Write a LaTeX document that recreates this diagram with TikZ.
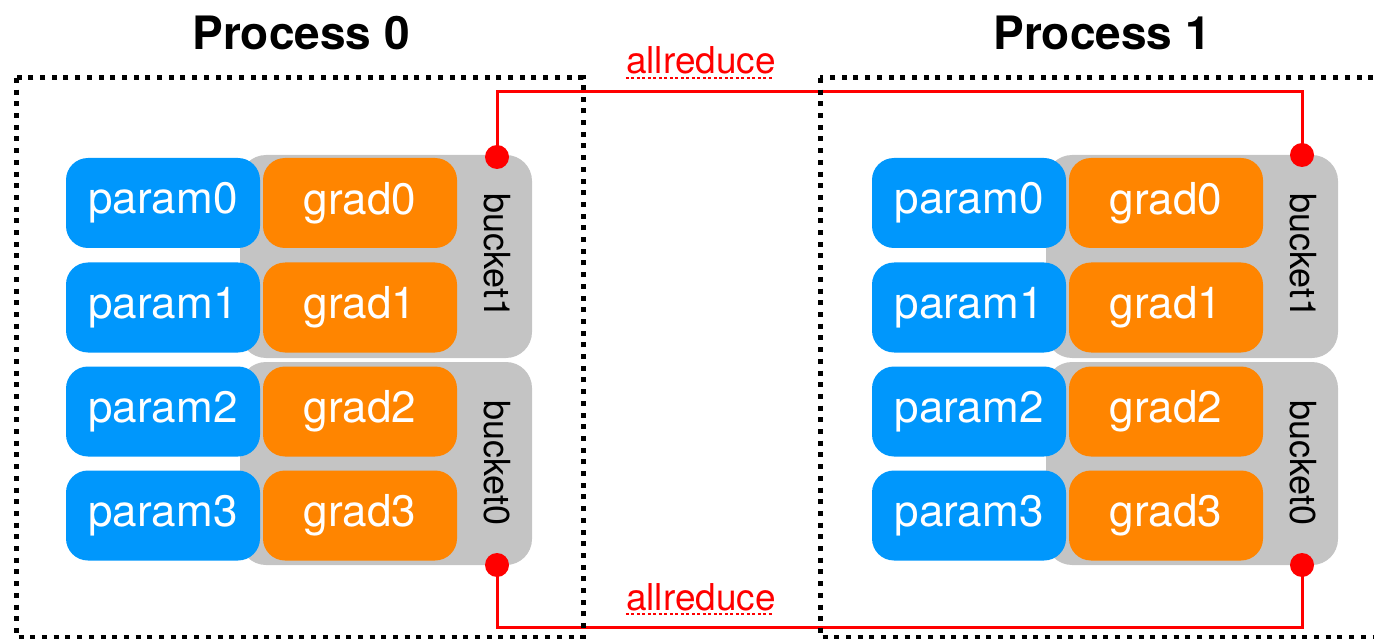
\documentclass[tikz,border=0pt]{standalone}
\usepackage{fontspec}
\setmainfont{TeX Gyre Heros}
\definecolor{pblue}{HTML}{0097FC}
\definecolor{gorange}{HTML}{FF8500}
\definecolor{bgrey}{HTML}{C4C4C4}
\definecolor{ared}{HTML}{FF0000}
\begin{document}
\begin{tikzpicture}[x=1pt,y=-1pt,
  parambox/.style={rectangle,rounded corners=22pt,fill=pblue,minimum width=194pt,minimum height=90pt,inner sep=0pt,text=white,font=\fontsize{44}{50}\selectfont},
  gradbox/.style={rectangle,rounded corners=22pt,fill=gorange,minimum width=194pt,minimum height=90pt,inner sep=0pt,text=white,font=\fontsize{44}{50}\selectfont},
  bucketbox/.style={rectangle,rounded corners=26pt,fill=bgrey,minimum width=292pt,minimum height=203pt,inner sep=0pt},
  buckettext/.style={rotate=-90,text=black,font=\fontsize{36}{40}\selectfont,inner sep=0pt},
  procbox/.style={draw=black,line width=5pt,dash pattern=on 5pt off 6.7pt},
  redline/.style={draw=ared,line width=3pt},
  reddot/.style={circle,fill=ared,minimum size=24pt,inner sep=0pt},
  title/.style={font=\bfseries\fontsize{46}{50}\selectfont,anchor=base},
  arlabel/.style={text=ared,font=\fontsize{37}{40}\selectfont,anchor=base,inner sep=0pt},
  squiggle/.style={draw=ared,line width=2pt,dash pattern=on 3pt off 2.5pt}]
\useasboundingbox (0,0) rectangle (1374,639);

\foreach \p/\dx in {0/0,1/806}{
  \node[bucketbox] (b1\p) at (386+\dx,256.5) {};
  \node[bucketbox] (b0\p) at (386+\dx,463.5) {};
  \node[buckettext] (bt1\p) at (497+\dx,256) {bucket1};
  \node[buckettext] (bt0\p) at (497+\dx,463) {bucket0};
  \foreach \i/\y in {0/203,1/307.5,2/411.5,3/515.5}{
    \node[parambox] (pa\i\p) at (163+\dx,\y) {param\i};
    \node[gradbox] (gr\i\p) at (360+\dx,\y) {grad\i};
  }
}

\node[title] (t0) at (301,50) {Process 0};
\node[title] (t1) at (1102,50) {Process 1};

% red connectors
\node[reddot] (dt0) at (497,157) {};
\node[reddot] (dt1) at (1302,155) {};
\node[reddot] (db0) at (497,565) {};
\node[reddot] (db1) at (1302,565) {};
\coordinate (ct0) at (497,92);
\coordinate (ct1) at (1302,92);
\coordinate (cb0) at (497,627);
\coordinate (cb1) at (1302,627);
\draw[redline] (dt0.center) -- (ct0) -- (ct1) -- (dt1.center);
\draw[redline] (db0.center) -- (cb0) -- (cb1) -- (db1.center);

\node[arlabel] (ar0) at (701,73.5) {allreduce};
\node[arlabel] (ar1) at (701,610) {allreduce};
\draw[squiggle] (ar0.south west) ++(0,3.5) coordinate (s0a) -- ++(146,0);
\draw[squiggle] (ar1.south west) ++(0,3.5) coordinate (s1a) -- ++(146,0);

% process boxes
\coordinate (p0a) at (16,78);
\coordinate (p0b) at (583,637);
\coordinate (p1a) at (820,78);
\coordinate (p1b) at (1380,637);
\draw[procbox] (p0a) rectangle (p0b);
\draw[procbox] (p1a) rectangle (p1b);
\end{tikzpicture}
\end{document}
